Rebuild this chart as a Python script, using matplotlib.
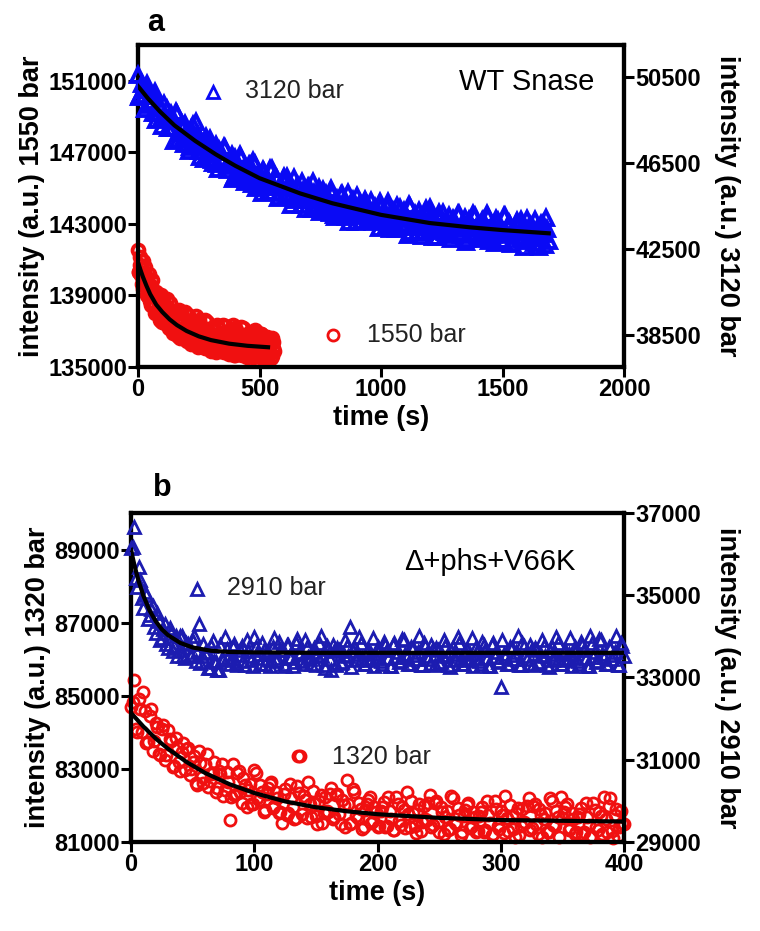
"""Pressure-jump fluorescence relaxation kinetics (panels a and b)."""

import numpy as np
import matplotlib.pyplot as plt

plt.rcParams["font.family"] = ["Liberation Sans", "DejaVu Sans"]

# ---------------- panel a : WT Snase ----------------
# 3120 bar trace (right axis): two interleaved sweeps, 10 s apart each
A_HI_TIME = np.arange(0, 1691, 10)
A_HI_VALUES = [
    50600, 49660, 49920, 49020, 49900, 49320, 48810, 49790, 48840, 49160,
    48230, 48720, 49030, 48110, 48580, 47530, 48770, 47880, 48300, 47390,
    47970, 47080, 48080, 47530, 48390, 47080, 47530, 46670, 47700, 46980,
    47130, 46500, 47340, 46210, 47010, 46580, 47200, 46190, 46520, 45740,
    46710, 46050, 46870, 46180, 45620, 46240, 46420, 45540, 46430, 45570,
    45910, 45110, 46090, 45580, 45160, 46220, 45360, 45760, 44890, 45450,
    45830, 44970, 45510, 44520, 45800, 44960, 45410, 44550, 45170, 44340,
    45380, 44890, 45590, 44520, 45000, 44190, 45260, 44580, 44770, 44170,
    45060, 43970, 44810, 44420, 45070, 44110, 44480, 43730, 44740, 44120,
    44970, 44300, 43780, 44430, 44640, 43790, 44710, 43880, 44250, 43470,
    44460, 43980, 43580, 44670, 43830, 44250, 43410, 43990, 44390, 43550,
    44110, 43150, 44450, 43630, 44110, 43270, 43920, 43100, 44160, 43680,
    44400, 43350, 43860, 43060, 44150, 43500, 43710, 43140, 44040, 42970,
    43820, 43450, 44110, 43160, 43550, 42820, 43850, 43240, 44110, 43460,
    42950, 43620, 43850, 43020, 43960, 43150, 43540, 42770, 43780, 43310,
    42920, 44010, 43180, 43610, 42780, 43380, 43790, 42960, 43530, 42580,
    43900, 43090, 43580, 42750, 43400, 42600, 43670, 43200, 43930, 42880,
]
A_HI_TIME_2 = np.arange(5, 1690, 10)
A_HI_VALUES_2 = [
    49590, 50170, 49610, 50170, 49200, 49400, 49630, 48500, 49160, 48550,
    49260, 48590, 48140, 48760, 48110, 48870, 47570, 48220, 47660, 48330,
    47800, 47220, 48260, 47370, 47820, 46770, 47250, 47540, 46920, 47610,
    46660, 47040, 46450, 47100, 46620, 47250, 46350, 46600, 46890, 45830,
    46540, 45980, 46750, 46130, 45730, 46390, 45790, 46600, 45320, 46000,
    45470, 46190, 45700, 45160, 46240, 45400, 45880, 44860, 45370, 45690,
    45110, 45830, 44900, 45320, 44760, 45440, 44970, 45630, 44760, 45040,
    45370, 44330, 45080, 44540, 45330, 44740, 44360, 45050, 44470, 45300,
    44050, 44760, 44260, 44990, 44520, 43990, 45090, 44260, 44750, 43750,
    44280, 44610, 44050, 44780, 43870, 44300, 43760, 44450, 44000, 44680,
    43810, 44110, 44460, 43440, 44200, 43680, 44480, 43900, 43540, 44240,
    43680, 44520, 43280, 44000, 43500, 44250, 43790, 43270, 44370, 43550,
    44060, 43070, 43610, 43960, 43400, 44160, 43270, 43710, 43180, 43890,
    43460, 44140, 43290, 43600, 43950, 42940, 43710, 43200, 44010, 43440,
    43090, 43800, 43250, 44100, 42880, 43610, 43120, 43870, 43420, 42910,
    44020, 43210, 43720, 42730, 43280, 43640, 43090, 43840, 42950, 43400,
    42880, 43590, 43160, 43850, 43000, 43320, 43670, 42660, 43430,
]
A_HI_FIT_TIME = [0, 40, 90, 150, 235, 320, 400, 500, 667, 800, 1000, 1200, 1365, 1500, 1690]
A_HI_FIT = [50080, 49520, 48900, 48250, 47530, 46900, 46370, 45790, 45080, 44620,
            44080, 43700, 43500, 43370, 43220]

# 1550 bar trace (left axis): two interleaved sweeps, 5 s apart each
A_LO_TIME = np.arange(0, 561, 5)
A_LO_VALUES = [
    141540, 140280, 140670, 139640, 140930, 139710, 140140, 139020, 139470, 140210,
    138660, 139490, 138570, 139000, 137990, 139170, 138040, 138560, 137640, 139040,
    137910, 138440, 137420, 137950, 138790, 137320, 138200, 137350, 137840, 136890,
    138140, 137030, 137580, 136710, 138150, 137060, 137620, 136620, 137180, 138040,
    136600, 137520, 136690, 137210, 136280, 137550, 136470, 137040, 137810, 136150,
    137600, 136530, 137110, 136140, 136720, 137600, 136170, 137100, 136280, 136810,
    135890, 137180, 136120, 136700, 135860, 137330, 136260, 136850, 135890, 136470,
    137360, 135950, 136870, 136060, 136600, 135690, 136980, 135920, 137330, 135680,
    137150, 136090, 136680, 135730, 136320, 137210, 135800, 136740, 135930, 136480,
    135570, 136860, 135810, 136400, 136940, 135560, 137040, 135980, 136580, 135620,
    136220, 136810, 135710, 136650, 135850, 136400, 135490, 136590, 135740, 136330,
    135580, 136380, 135880,
]
A_LO_TIME_2 = np.arange(2.5, 560, 5)
A_LO_VALUES_2 = [
    140290, 141130, 140120, 140480, 139350, 140580, 139560, 139950, 138940, 139290,
    138450, 139830, 138960, 138350, 138930, 137980, 138950, 138070, 138530, 137500,
    138830, 137910, 138390, 137470, 137910, 137140, 138580, 137770, 137220, 137870,
    136960, 137960, 137110, 137620, 136630, 137990, 137100, 137600, 136710, 137170,
    136440, 137910, 137130, 136600, 137270, 136390, 137410, 136580, 137100, 136120,
    137490, 136620, 137150, 136280, 136760, 136040, 137510, 136740, 136220, 136900,
    136040, 137080, 136260, 136800, 135840, 137220, 136360, 136900, 136030, 136520,
    135810, 137290, 136520, 136010, 136700, 135840, 136880, 136070, 136610, 135660,
    137050, 136190, 136730, 135880, 136370, 135660, 137150, 136390, 135880, 136580,
    135720, 136760, 135960, 136500, 135550, 136940, 136090, 136630, 135780, 136270,
    135570, 136810, 136310, 135800, 136500, 135650, 136690, 135890, 136440, 135480,
    136580, 136030,
]
A_LO_FIT_TIME = [0, 10, 20, 35, 50, 75, 100, 130, 160, 200, 250, 300, 375, 450, 535]
A_LO_FIT = [140840, 140420, 140030, 139520, 139060, 138470, 138060, 137650, 137330,
            137000, 136700, 136490, 136290, 136170, 136090]

# ---------------- panel b : delta+phs+V66K ----------------
# 2910 bar trace (right axis): two interleaved sweeps, 2.5 s apart each
B_HI_TIME = np.arange(0, 401, 2.5)
B_HI_VALUES = [
    36150, 36660, 35210, 35360, 34690, 35000, 34530, 34740, 34070, 34370,
    33970, 34300, 33710, 34070, 33770, 33530, 34020, 33520, 33840, 33550,
    33880, 33410, 34300, 33530, 33590, 33220, 33770, 33400, 33190, 33780,
    33430, 33690, 33320, 33730, 33360, 33550, 33770, 33310, 33650, 33430,
    33990, 33480, 33320, 33680, 33580, 33280, 33750, 33400, 33860, 33680,
    33290, 33800, 33500, 33380, 33930, 33560, 33320, 33740, 33440, 33620,
    33300, 33840, 33520, 33230, 33700, 33180, 33650, 33720, 33350, 33540,
    33760, 34230, 33640, 33420, 33980, 33480, 33320, 33680, 33580, 33280,
    33750, 33400, 33860, 33680, 33290, 33800, 33500, 33380, 33930, 33560,
    33320, 33740, 33440, 33620, 33300, 33840, 33520, 33340, 33700, 33720,
    33350, 33540, 33760, 33300, 33640, 33420, 33980, 33480, 33320, 33680,
    33580, 33280, 33750, 33400, 33860, 33680, 33290, 33800, 33500, 33380,
    32780, 33560, 33320, 33740, 33440, 33620, 33300, 33840, 33520, 33340,
    33700, 33720, 33350, 33540, 33760, 33300, 33640, 33420, 33980, 33480,
    33320, 33680, 33580, 33280, 33750, 33400, 33860, 33680, 33290, 34000,
    33500, 33380, 33930, 33560, 33320, 33740, 33440, 33620, 33300, 33840,
    33520,
]
B_HI_TIME_2 = np.arange(1.25, 400, 2.5)
B_HI_VALUES_2 = [
    36170, 35410, 35680, 34940, 35090, 34410, 34660, 34230, 34570, 33920,
    34180, 33810, 34200, 33640, 34020, 33660, 34020, 33470, 33820, 33520,
    34020, 33630, 33350, 33820, 33630, 33240, 33890, 33380, 33170, 33450,
    33990, 33500, 33460, 33810, 33310, 33670, 33390, 33910, 33530, 33270,
    33740, 33560, 33840, 33340, 33620, 33420, 33960, 33480, 33660, 33320,
    33780, 33480, 33280, 33850, 33620, 33400, 33920, 33500, 33340, 33720,
    33540, 34000, 33300, 33760, 33450, 33800, 33300, 33660, 33380, 33900,
    33520, 33260, 33740, 33560, 33840, 33340, 33620, 33420, 33960, 33480,
    33660, 33320, 33780, 33480, 33280, 33850, 33620, 33400, 33920, 33500,
    33340, 33720, 33540, 34000, 33300, 33760, 33450, 33800, 33300, 33660,
    33380, 33900, 33520, 33260, 33740, 33560, 33840, 33340, 33620, 33420,
    33960, 33480, 33660, 33320, 33780, 33480, 33280, 33850, 33620, 33400,
    33920, 33500, 33340, 33720, 33540, 34000, 33300, 33760, 33450, 33800,
    33300, 33660, 33380, 33900, 33520, 33260, 33740, 33560, 33840, 33340,
    33620, 33420, 33960, 33480, 33660, 33320, 33780, 33480, 33280, 33850,
    33620, 33400, 33920, 33500, 33340, 33720, 33540, 34000, 33300, 33760,
]
B_HI_FIT_TIME = [0, 3, 6, 10, 15, 20, 25, 30, 40, 50, 65, 80, 100, 150, 400]
B_HI_FIT = [36100, 35700, 35360, 34990, 34630, 34370, 34170, 34030, 33840, 33730,
            33650, 33620, 33610, 33600, 33600]

# 1320 bar trace (left axis): two interleaved sweeps, 2.5 s apart each
B_LO_TIME = np.arange(0, 401, 2.5)
B_LO_VALUES = [
    84700, 85440, 84000, 84650, 85110, 83700, 84450, 83480, 84250, 83400,
    84100, 83250, 84050, 83750, 83070, 83610, 82950, 83700, 83540, 82830,
    83200, 82610, 83480, 82780, 83140, 82500, 82850, 83180, 82470, 82860,
    82250, 82910, 81600, 83140, 82310, 82930, 82070, 82570, 82420, 82030,
    82960, 82190, 82560, 81810, 82320, 82590, 81930, 82370, 81800, 81520,
    82460, 81790, 82200, 81640, 82540, 83360, 82260, 81650, 82030, 82390,
    81700, 82120, 81530, 82220, 81820, 82490, 81680, 82320, 81480, 82000,
    82700, 81500, 82440, 81700, 82080, 81350, 81870, 82160, 81510, 81970,
    81410, 81860, 82100, 81450, 81860, 81320, 82230, 81580, 81970, 81370,
    81760, 82130, 81450, 81880, 81290, 81990, 81600, 82280, 81470, 82120,
    81280, 81810, 81680, 81320, 82270, 81530, 81920, 81190, 81720, 82010,
    81370, 81830, 81270, 81720, 81970, 81320, 81730, 81190, 82110, 81450,
    81850, 81250, 81650, 82020, 81350, 81780, 81190, 81890, 81510, 82190,
    81390, 82040, 81210, 81740, 81620, 81260, 82200, 81460, 81860, 81130,
    81660, 81960, 81320, 81780, 81230, 81680, 81920, 81270, 81690, 81150,
    82070, 81420, 81820, 81220, 81620, 81990, 81310, 81740, 81160, 81860,
    81480,
]
B_LO_TIME_2 = np.arange(1.25, 400, 2.5)
B_LO_VALUES_2 = [
    84830, 84090, 84900, 84000, 84570, 83730, 84650, 83770, 84150, 83380,
    84210, 83390, 83820, 83050, 83840, 83180, 83470, 82970, 83560, 83000,
    83360, 82560, 83160, 82610, 83420, 82680, 82880, 82360, 82950, 83120,
    82430, 82650, 82240, 82280, 82900, 82370, 82740, 81960, 82580, 82050,
    82880, 82150, 82370, 81870, 82480, 82650, 81980, 82210, 81820, 82320,
    81750, 82590, 81970, 81650, 82340, 81770, 82160, 82640, 81680, 82060,
    81500, 82290, 81780, 81860, 82300, 81640, 82280, 81770, 82160, 81400,
    82040, 81530, 82370, 81660, 81900, 81420, 82040, 82230, 81570, 81820,
    81440, 81950, 81400, 82240, 81640, 81330, 82030, 81470, 81870, 82360,
    81410, 81800, 81250, 82040, 81540, 81630, 82080, 81420, 82070, 81560,
    81960, 81210, 81850, 81350, 82200, 81490, 81740, 81260, 81880, 82080,
    81430, 81680, 81300, 81820, 81270, 82110, 81510, 81210, 81900, 81350,
    81750, 82250, 81300, 81700, 81150, 81940, 81440, 81540, 81990, 81340,
    81990, 81490, 81890, 81140, 81790, 81280, 82130, 81430, 81680, 82230,
    81830, 82030, 81380, 81630, 81260, 81770, 81220, 82070, 81470, 81170,
    81870, 81320, 81720, 82220, 81270, 82210, 81110, 81910, 81410, 81510,
]
B_LO_FIT_TIME = [0, 10, 20, 30, 45, 60, 80, 100, 125, 150, 175, 200, 250, 300, 350, 400]
B_LO_FIT = [84530, 84160, 83830, 83550, 83190, 82890, 82580, 82340, 82110, 81950,
            81840, 81760, 81660, 81600, 81580, 81560]

BLUE_A = "#0a0af5"
BLUE_B = "#1c1cb0"
RED = "#f01010"
TICK_FONT = 17
LABEL_FONT = 19.5


def style_axes(ax, twin):
    """Thick black frame and bold ticks, GraphPad style."""
    for axis in (ax, twin):
        for spine in axis.spines.values():
            spine.set_linewidth(3.0)
        axis.tick_params(direction="out", length=7, width=2.2, pad=1,
                         labelsize=TICK_FONT)
        for lab in axis.get_xticklabels() + axis.get_yticklabels():
            lab.set_fontweight("bold")
    ax.tick_params(top=False, right=False)
    twin.tick_params(axis="y", right=True, left=False)


def scatter(ax, t, v, marker, color, ms, mew):
    ax.plot(t, v, marker, ms=ms, mfc="none", mec=color, mew=mew,
            clip_on=False, zorder=3)


fig = plt.figure(figsize=(7.6, 9.31), dpi=100)

# ---- panel a ----
ax_a = fig.add_axes([0.1816, 0.6061, 0.6395, 0.3456])
tw_a = ax_a.twinx()

scatter(ax_a, A_LO_TIME, A_LO_VALUES, "o", RED, 8.5, 2.8)
scatter(ax_a, A_LO_TIME_2, A_LO_VALUES_2, "o", RED, 8.5, 2.8)
ax_a.plot(A_LO_FIT_TIME, A_LO_FIT, color="black", lw=3.0, zorder=4)
scatter(tw_a, A_HI_TIME, A_HI_VALUES, "^", BLUE_A, 10, 2.8)
scatter(tw_a, A_HI_TIME_2, A_HI_VALUES_2, "^", BLUE_A, 10, 2.8)
tw_a.plot(A_HI_FIT_TIME, A_HI_FIT, color="black", lw=3.0, zorder=4)

ax_a.set_xlim(0, 2000)
ax_a.set_ylim(135000, 153000)
tw_a.set_ylim(37000, 52000)
ax_a.set_xticks([0, 500, 1000, 1500, 2000])
ax_a.set_yticks([135000, 139000, 143000, 147000, 151000])
tw_a.set_yticks([38500, 42500, 46500, 50500])
style_axes(ax_a, tw_a)

ax_a.set_xlabel("time (s)", fontsize=LABEL_FONT, fontweight="bold", labelpad=3)
ax_a.set_ylabel("intensity (a.u.) 1550 bar", fontsize=LABEL_FONT,
                fontweight="bold", labelpad=2)
tw_a.set_ylabel("intensity (a.u.) 3120 bar", fontsize=LABEL_FONT,
                fontweight="bold", rotation=-90, labelpad=28)

ax_a.plot([0.154], [0.854], "^", ms=8, mfc="none", mec=BLUE_A, mew=2,
          transform=ax_a.transAxes)
ax_a.text(0.221, 0.857, "3120 bar", transform=ax_a.transAxes, fontsize=18,
          color="#222222", va="center", ha="left")
ax_a.plot([0.401], [0.0985], "o", ms=8, mfc="none", mec=RED, mew=2,
          transform=ax_a.transAxes)
ax_a.text(0.471, 0.0985, "1550 bar", transform=ax_a.transAxes, fontsize=18,
          color="#222222", va="center", ha="left")
ax_a.text(0.80, 0.885, "WT Snase", transform=ax_a.transAxes, fontsize=21,
          color="black", va="center", ha="center")
fig.text(156 / 760, 1 - 23 / 931, "a", fontsize=22, fontweight="bold",
         ha="center", va="center")

# ---- panel b ----
ax_b = fig.add_axes([0.1724, 0.0956, 0.6487, 0.3534])
tw_b = ax_b.twinx()

scatter(ax_b, B_LO_TIME, B_LO_VALUES, "o", RED, 8, 2.0)
scatter(ax_b, B_LO_TIME_2, B_LO_VALUES_2, "o", RED, 8, 2.0)
ax_b.plot(B_LO_FIT_TIME, B_LO_FIT, color="black", lw=3.0, zorder=4)
scatter(tw_b, B_HI_TIME, B_HI_VALUES, "^", BLUE_B, 8, 2.0)
scatter(tw_b, B_HI_TIME_2, B_HI_VALUES_2, "^", BLUE_B, 8, 2.0)
tw_b.plot(B_HI_FIT_TIME, B_HI_FIT, color="black", lw=3.0, zorder=4)

ax_b.set_xlim(0, 400)
ax_b.set_ylim(81000, 90000)
tw_b.set_ylim(29000, 37000)
ax_b.set_xticks([0, 100, 200, 300, 400])
ax_b.set_yticks([81000, 83000, 85000, 87000, 89000])
tw_b.set_yticks([29000, 31000, 33000, 35000, 37000])
style_axes(ax_b, tw_b)

ax_b.set_xlabel("time (s)", fontsize=LABEL_FONT, fontweight="bold", labelpad=3)
ax_b.set_ylabel("intensity (a.u.) 1320 bar", fontsize=LABEL_FONT,
                fontweight="bold", labelpad=2)
tw_b.set_ylabel("intensity (a.u.) 2910 bar", fontsize=LABEL_FONT,
                fontweight="bold", rotation=-90, labelpad=28)

ax_b.plot([0.134], [0.769], "^", ms=8, mfc="none", mec=BLUE_B, mew=2,
          transform=ax_b.transAxes)
ax_b.text(0.195, 0.772, "2910 bar", transform=ax_b.transAxes, fontsize=18,
          color="#222222", va="center", ha="left")
ax_b.plot([0.339], [0.261], "o", ms=8, mfc="none", mec=RED, mew=2,
          transform=ax_b.transAxes)
ax_b.text(0.408, 0.258, "1320 bar", transform=ax_b.transAxes, fontsize=18,
          color="#222222", va="center", ha="left")
ax_b.text(0.728, 0.851, "\u0394+phs+V66K", transform=ax_b.transAxes, fontsize=21,
          color="black", va="center", ha="center")
fig.text(162 / 760, 1 - 488 / 931, "b", fontsize=22, fontweight="bold",
         ha="center", va="center")

fig.savefig("out.png", dpi=100, facecolor="white")
plt.close(fig)
